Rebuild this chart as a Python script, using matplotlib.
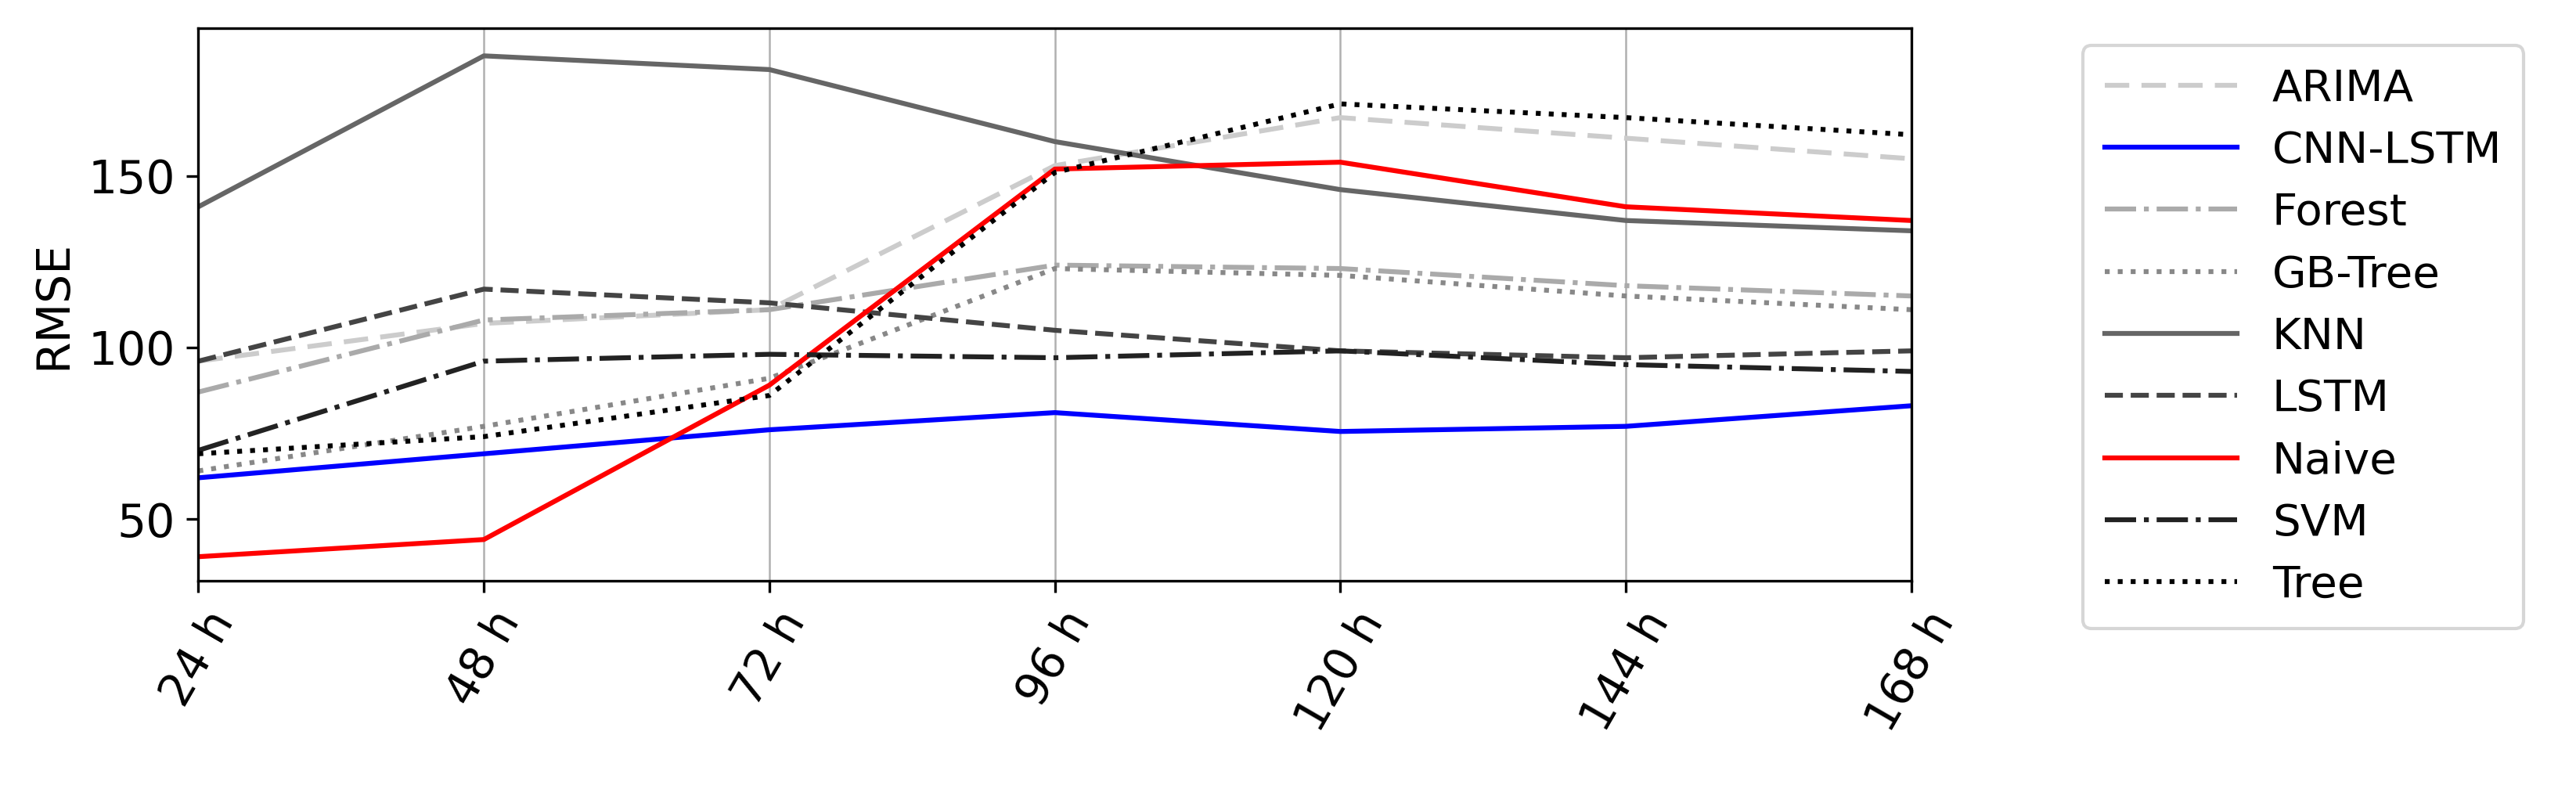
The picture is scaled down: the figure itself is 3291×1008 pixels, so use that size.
import matplotlib.pyplot as plt

horizons = ["24 h", "48 h", "72 h", "96 h", "120 h", "144 h", "168 h"]
arima = [96, 107, 111, 153, 167, 161, 155]
cnn_lstm = [62, 69, 76, 81, 75.5, 77, 83]
forest = [87, 108, 111, 124, 123, 118, 115]
gb_tree = [64, 77, 91, 123, 121, 115, 111]
knn = [141, 185, 181, 160, 146, 137, 134]
lstm = [96, 117, 113, 105, 99, 97, 99]
naive = [39, 44, 89, 152, 154, 141, 137]
svm = [70, 96, 98, 97, 99, 95, 93]
tree = [69, 74, 86, 151, 171, 167, 162]

series = [
    ("ARIMA", arima, "#cccccc", (0, (5, 2.5))),
    ("CNN-LSTM", cnn_lstm, "blue", "-"),
    ("Forest", forest, "#aaaaaa", "-."),
    ("GB-Tree", gb_tree, "#888888", ":"),
    ("KNN", knn, "#666666", "-"),
    ("LSTM", lstm, "#444444", "--"),
    ("Naive", naive, "red", "-"),
    ("SVM", svm, "#222222", "-."),
    ("Tree", tree, "black", ":"),
]

plt.rcParams["font.size"] = 14
fig = plt.figure(figsize=(10.97, 3.36), dpi=300)
ax = fig.add_axes([0.077, 0.264, 0.665, 0.7])
x = list(range(len(horizons)))
for name, vals, c, ls in series:
    ax.plot(x, vals, color=c, linestyle=ls, linewidth=1.5, label=name)
ax.set_xlim(0, len(horizons) - 1)
ax.set_ylim(32, 193)
ax.set_yticks([50, 100, 150])
ax.set_xticks(x)
ax.set_xticklabels(horizons, rotation=60)
ax.grid(axis="x", color="#b0b0b0", linewidth=0.6)
ax.set_ylabel("RMSE")
fig.legend(loc="upper left", bbox_to_anchor=(0.80, 0.97), fontsize=13.5,
           handlelength=3, borderpad=0.5, labelspacing=0.45)
fig.savefig("out.png", dpi=300)
